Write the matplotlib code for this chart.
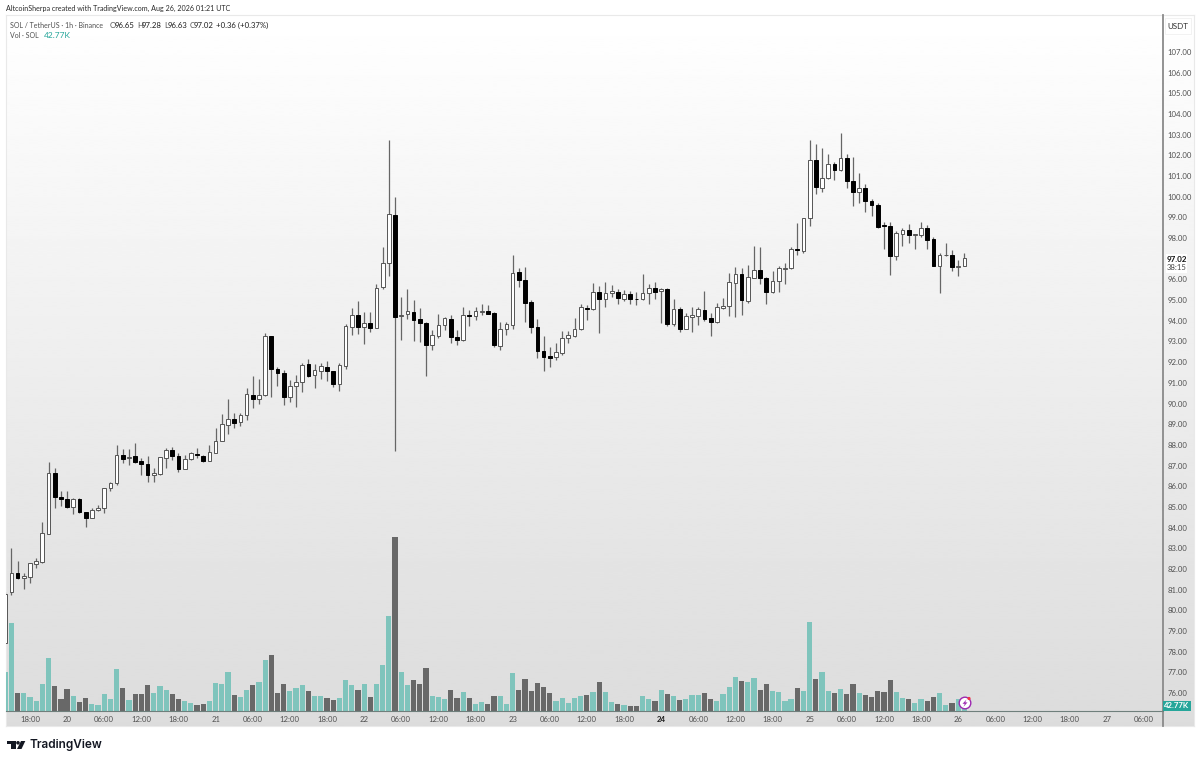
# -*- coding: utf-8 -*-
import numpy as np
import matplotlib
matplotlib.use("Agg")
import matplotlib.pyplot as plt
from matplotlib.patches import Circle, Polygon, Rectangle
from matplotlib.transforms import Affine2D
from matplotlib.ticker import FormatStrFormatter, FixedLocator

plt.rcParams["font.family"] = ["Lato", "DejaVu Sans"]

# --- data, hourly candles, first one is cut by the left edge ---
opens = [78.42,
    80.90, 81.82, 81.55, 81.63, 82.22, 82.35, 83.69, 86.63, 85.50, 85.39,
    84.98, 85.37, 84.77, 84.48, 84.83, 84.93, 85.90, 86.14, 87.51, 87.35,
    87.46, 87.21, 87.06, 86.56, 86.58, 87.37, 87.74, 87.48, 86.85, 87.30,
    87.58, 87.48, 87.24, 87.62, 88.19, 88.98, 89.25, 89.09, 89.45, 90.43,
    90.24, 90.40, 93.27, 91.65, 91.46, 90.30, 90.86, 91.06, 91.90, 91.36,
    91.59, 91.78, 91.57, 90.95, 91.83, 93.72, 94.28, 93.69, 93.88, 93.67,
    95.62, 96.78, 99.13, 94.22, 94.31, 94.44, 94.07, 93.91, 92.85, 93.27,
    93.81, 94.10, 93.23, 93.06, 94.30, 94.25, 94.44, 94.47, 94.39, 92.80,
    93.61, 93.81, 96.35, 95.97, 94.89, 93.69, 92.54, 92.29, 92.23, 92.46,
    93.17, 93.28, 93.62, 94.60, 94.56, 95.38, 95.06, 95.35, 95.41, 95.07,
    95.30, 95.07, 95.04, 95.33, 95.59, 95.43, 95.56, 93.85, 94.59, 93.62,
    94.19, 94.25, 94.54, 94.12, 93.93, 94.64, 94.72, 95.85, 96.28, 94.98,
    96.09, 96.44, 96.07, 95.38, 95.91, 96.52, 96.54, 97.46, 97.39, 98.96,
    101.76, 100.44, 100.89, 101.58, 101.30, 101.89, 100.75, 100.21, 100.41, 99.80,
    99.62, 98.62, 98.59, 97.12, 98.18, 98.38, 98.17, 98.15, 98.47, 97.97,
    96.67, 97.17, 97.18, 96.62, 96.65]
highs = [80.89,
    83.00, 82.38, 81.79, 82.30, 82.51, 84.29, 87.19, 86.87, 85.79, 85.79,
    85.42, 85.42, 84.77, 84.93, 85.09, 85.90, 86.22, 87.99, 87.79, 87.80,
    88.11, 87.35, 87.46, 86.87, 87.43, 87.83, 87.91, 87.62, 87.51, 87.67,
    87.87, 87.51, 87.99, 88.80, 89.49, 90.22, 89.53, 89.53, 90.74, 91.33,
    91.17, 93.40, 93.28, 91.75, 91.62, 91.14, 91.38, 91.94, 92.14, 91.90,
    91.98, 92.06, 91.59, 91.94, 93.83, 94.60, 94.97, 94.41, 94.44, 95.78,
    97.59, 102.74, 99.97, 95.14, 95.52, 95.01, 94.60, 93.96, 93.56, 94.33,
    94.20, 94.28, 93.56, 94.65, 94.52, 94.68, 94.80, 94.77, 94.44, 93.96,
    93.96, 97.18, 96.54, 96.59, 95.01, 94.07, 93.27, 92.75, 92.94, 93.52,
    93.51, 94.12, 94.80, 94.77, 95.81, 95.69, 95.89, 95.73, 95.52, 95.49,
    95.46, 95.38, 96.25, 95.77, 95.88, 95.57, 95.57, 95.04, 94.65, 94.36,
    94.65, 94.65, 95.44, 94.36, 94.88, 95.09, 96.33, 96.62, 96.57, 96.70,
    97.62, 97.59, 96.14, 96.43, 96.65, 96.78, 97.59, 98.72, 98.97, 102.74,
    102.55, 102.34, 102.07, 101.70, 103.07, 102.05, 101.94, 101.13, 100.62, 99.87,
    99.68, 98.80, 98.80, 98.34, 98.47, 98.67, 98.20, 98.80, 98.64, 98.07,
    97.26, 97.75, 97.43, 96.94, 97.28]
lows = [78.42,
    80.74, 81.50, 81.02, 81.30, 82.03, 82.30, 83.68, 84.93, 85.05, 84.93,
    84.66, 84.72, 84.01, 84.45, 84.82, 84.69, 85.79, 86.06, 87.14, 87.03,
    87.14, 86.55, 86.22, 86.19, 86.55, 86.87, 87.27, 86.67, 86.82, 87.27,
    87.35, 87.19, 87.22, 87.60, 88.17, 88.53, 88.80, 88.91, 89.21, 89.80,
    89.98, 90.38, 90.33, 90.86, 89.91, 90.09, 89.82, 90.57, 91.30, 90.77,
    91.17, 91.11, 90.82, 90.61, 91.65, 93.31, 93.36, 92.88, 93.48, 93.65,
    95.52, 96.18, 87.72, 93.07, 94.07, 93.04, 92.99, 91.33, 92.59, 93.15,
    93.56, 92.91, 92.83, 93.04, 93.77, 94.04, 94.28, 94.31, 92.75, 92.59,
    93.31, 93.59, 95.65, 93.96, 93.43, 92.22, 91.59, 91.78, 92.11, 92.35,
    92.91, 93.23, 93.56, 94.04, 94.53, 93.40, 94.69, 95.17, 94.81, 94.97,
    94.81, 94.77, 95.02, 94.80, 95.04, 93.88, 93.75, 93.75, 93.48, 93.59,
    93.48, 93.80, 94.01, 93.27, 93.88, 94.56, 94.23, 94.17, 94.28, 94.85,
    96.06, 95.78, 94.81, 95.33, 95.40, 95.77, 96.49, 97.18, 97.26, 98.59,
    100.13, 100.23, 100.84, 100.81, 101.26, 100.40, 99.55, 99.71, 99.28, 99.07,
    98.51, 97.46, 96.20, 96.94, 97.62, 97.75, 97.46, 98.07, 97.46, 96.65,
    95.33, 97.13, 96.43, 96.19, 96.63]
closes = [80.80,
    81.82, 81.55, 81.66, 82.27, 82.37, 83.73, 86.63, 85.50, 85.37, 85.01,
    85.37, 84.77, 84.48, 84.85, 84.96, 85.90, 86.17, 87.51, 87.33, 87.43,
    87.19, 87.06, 86.56, 86.63, 87.40, 87.75, 87.48, 86.85, 87.30, 87.59,
    87.49, 87.24, 87.67, 88.21, 89.01, 89.25, 89.08, 89.45, 90.46, 90.24,
    90.41, 93.28, 91.69, 91.48, 90.30, 90.86, 91.06, 91.86, 91.33, 91.62,
    91.82, 91.56, 90.95, 91.86, 93.73, 94.28, 93.69, 93.88, 93.67, 95.60,
    96.78, 99.15, 94.20, 94.28, 94.46, 94.06, 93.89, 92.85, 93.31, 93.81,
    94.12, 93.23, 93.06, 94.28, 94.25, 94.46, 94.49, 94.35, 92.83, 93.62,
    93.83, 96.33, 95.99, 94.88, 93.69, 92.54, 92.27, 92.22, 92.48, 93.19,
    93.30, 93.62, 94.65, 94.56, 95.38, 95.06, 95.36, 95.43, 95.09, 95.30,
    95.06, 95.04, 95.36, 95.59, 95.40, 95.52, 93.85, 94.57, 93.61, 94.23,
    94.30, 94.56, 94.11, 93.93, 94.65, 94.72, 95.86, 96.28, 95.01, 96.10,
    96.46, 96.06, 95.38, 95.93, 96.56, 96.56, 97.47, 97.43, 98.97, 101.76,
    100.46, 100.89, 101.60, 101.31, 101.88, 100.75, 100.21, 100.41, 99.78, 99.62,
    98.55, 98.59, 97.14, 98.23, 98.38, 98.17, 98.20, 98.51, 97.91, 96.67,
    97.18, 97.20, 96.59, 96.65, 97.02]
volumes = [140.4,
    313.0, 64.3, 64.3, 51.2, 36.9, 96.4, 188.0, 89.3, 44.0, 78.5,
    54.7, 30.9, 46.4, 26.2, 21.4, 60.7, 42.8, 148.8, 83.3, 40.5,
    61.9, 59.5, 91.6, 65.5, 89.3, 76.2, 59.5, 44.0, 36.9, 29.8,
    22.6, 25.0, 35.7, 100.0, 95.2, 140.4, 57.1, 51.2, 75.0, 91.6,
    104.7, 180.9, 199.9, 65.5, 97.6, 70.2, 82.1, 94.0, 70.2, 52.4,
    52.4, 46.4, 40.5, 46.4, 110.7, 91.6, 73.8, 97.6, 48.8, 95.2,
    164.2, 340.3, 621.0, 139.2, 91.6, 109.5, 95.2, 152.3, 54.7, 48.8,
    41.7, 76.2, 47.6, 66.6, 45.2, 26.2, 33.3, 23.8, 53.6, 52.4,
    26.2, 134.5, 73.8, 114.2, 71.4, 101.2, 86.9, 65.5, 36.9, 45.2,
    28.6, 45.2, 52.4, 55.9, 66.6, 104.7, 66.6, 33.3, 26.2, 21.4,
    19.0, 16.7, 53.6, 42.8, 34.5, 76.2, 60.7, 53.6, 38.1, 41.7,
    58.3, 58.3, 63.1, 42.8, 36.9, 60.7, 85.7, 121.4, 107.1, 104.7,
    117.8, 76.2, 97.6, 72.6, 69.0, 35.7, 44.0, 83.3, 72.6, 317.7,
    115.4, 140.4, 70.2, 63.1, 78.5, 61.9, 97.6, 63.1, 57.1, 51.2,
    71.4, 67.8, 110.7, 67.8, 47.6, 42.8, 29.8, 42.8, 36.9, 48.8,
    64.3, 20.2, 27.4, 42.8, 42.77]

time_labels = ["18:00", "20", "06:00", "12:00", "18:00", "21", "06:00", "12:00",
               "18:00", "22", "06:00", "12:00", "18:00", "23", "06:00", "12:00",
               "18:00", "24", "06:00", "12:00", "18:00", "25", "06:00", "12:00",
               "18:00", "26", "06:00", "12:00", "18:00", "27", "06:00"]
# 97.00 is covered by the last price label on the scale
price_ticks = [p for p in range(76, 108) if p != 97]

GREY_TXT = "#505050"
DARK_TXT = "#1c1c1c"
TEAL = "#7fc4bc"
DARK_VOL = "#686868"
TICK_SIZE = 5.6

W, H = 1200, 763
fig = plt.figure(figsize=(W / 100, H / 100), dpi=100, facecolor="white")
px = Affine2D().scale(1, -1).translate(0, H)  # top-left pixel coords for decorations


def box(x0, y0, x1, y1):
    return [x0 / W, 1 - y1 / H, (x1 - x0) / W, (y1 - y0) / H]


# background gradient over the whole pane, price scale included
bg = fig.add_axes(box(6, 15, 1194, 726), zorder=0)
bg.imshow(np.linspace(255, 220, 256).reshape(-1, 1), cmap="gray", vmin=0, vmax=255,
          aspect="auto", interpolation="bilinear")
bg.set_xticks([])
bg.set_yticks([])
for s in bg.spines.values():
    s.set_color("#e9e9e9")
    s.set_linewidth(0.8)

# --- main axes: candles ---
ax = fig.add_axes(box(6, 15, 1163, 711), zorder=2)
ax.patch.set_alpha(0)
idx = np.arange(len(closes)) - 1
o, h, l, c = map(np.array, (opens, highs, lows, closes))
up = c >= o

ax.vlines(idx, l, h, color="#666666", lw=0.9, zorder=3)
ax.bar(idx, np.maximum(np.abs(c - o), 0.03), bottom=np.minimum(o, c), width=0.6,
       color=np.where(up, "white", "black"), edgecolor=np.where(up, "#555555", "black"),
       linewidth=0.7, zorder=4)

ax.set_xlim(-0.873, 186.1)
ax.set_ylim(75.13, 108.79)

# --- volume, same pane, baseline on the time axis ---
vol = ax.twinx()
vol.set_ylim(0, 2485)
vol.set_zorder(1)
ax.set_zorder(2)
vol.bar(idx, volumes, width=0.84, color=np.where(up, TEAL, DARK_VOL), linewidth=0)
vol.set_yticks([])
for s in vol.spines.values():
    s.set_visible(False)

ax.xaxis.set_major_locator(FixedLocator(np.arange(len(time_labels)) * 6 + 3))
ax.set_xticklabels(time_labels, fontsize=TICK_SIZE, color=GREY_TXT)
ax.tick_params(axis="x", length=0, pad=3.5)
for lab, txt in zip(ax.get_xticklabels(), time_labels):
    if txt == "24":
        lab.set_color(DARK_TXT)
        lab.set_fontweight("bold")

# twinx flips the ticks to the left, so set this after it
ax.yaxis.tick_right()
ax.yaxis.set_major_locator(FixedLocator(price_ticks))
ax.yaxis.set_major_formatter(FormatStrFormatter("%.2f"))
ax.tick_params(axis="y", length=0, pad=3, labelsize=TICK_SIZE, labelcolor=GREY_TXT)

for s in ("top", "left"):
    ax.spines[s].set_visible(False)
ax.spines["right"].set_color("#8a8a8a")
ax.spines["right"].set_linewidth(1.3)
ax.spines["bottom"].set_color("#6f7f7c")
ax.spines["bottom"].set_linewidth(0.8)

# separator continues down through the time scale
fig.add_artist(plt.Line2D([1163, 1163], [711, 726], transform=px, color="#8a8a8a", lw=1.3))


def put(x, y, s, color=GREY_TXT, size=5.05, weight="normal", ha="left", **kw):
    return fig.text(x, y, s, transform=px, color=color, fontsize=size, fontweight=weight,
                    ha=ha, va="center", **kw)


# --- header and legend ---
put(6, 8.5, "AltcoinSherpa created with TradingView.com, Aug 26, 2026 01:21 UTC",
    color="#2a2a2a", size=5.15)
put(10.5, 25, "SOL / TetherUS · 1h · Binance")
for x, s, col in [(110, "O", GREY_TXT), (115, "96.65", DARK_TXT), (137, "H", GREY_TXT),
                  (141.5, "97.28", DARK_TXT), (164, "L", GREY_TXT), (168, "96.63", DARK_TXT),
                  (190, "C", GREY_TXT), (194, "97.02", DARK_TXT),
                  (216, "+0.36 (+0.37%)", DARK_TXT)]:
    put(x, 25, s, color=col, size=5.6)
put(10.5, 35, "Vol · SOL")
put(43.5, 35, "42.77K", color="#26a69a", size=6.0)

# --- price scale extras ---
fig.add_artist(Rectangle((1165, 18), 26, 16, transform=px, facecolor="white",
                         edgecolor="#f0f0f0", linewidth=0.6, zorder=5))
put(1178, 26.5, "USDT", color="#333333", size=5.8, ha="center", zorder=6)
fig.add_artist(Rectangle((1166, 254), 21, 18.5, transform=px, facecolor="white",
                         edgecolor="none", zorder=5))
put(1176.5, 259, "97.02", color="#111111", size=5.8, weight="bold", ha="center", zorder=6)
put(1176.5, 267.5, "38:15", color="#444444", size=5.6, ha="center", zorder=6)
fig.add_artist(Rectangle((1163, 701), 28, 9.5, transform=px, facecolor="#26a69a",
                         edgecolor="none", zorder=5))
put(1177, 706, "42.77K", color="white", size=5.6, weight="bold", ha="center", zorder=6)

# --- lightning badge on the last bar ---
fig.add_artist(Circle((965, 703), 5.8, transform=px, facecolor="white", edgecolor="#9c27b0",
                      linewidth=1.0, zorder=5))
fig.add_artist(Polygon([(966.5, 699.5), (962.5, 703.8), (964.8, 703.8), (963.5, 706.8),
                        (967.5, 702.4), (965.2, 702.4)], transform=px, facecolor="#9c27b0",
                       edgecolor="none", zorder=6))
fig.add_artist(Circle((969, 698.5), 1.6, transform=px, facecolor="#f23645", edgecolor="none", zorder=6))

# --- TradingView logo ---
fig.add_artist(Polygon([(7, 741), (15.5, 741), (15.5, 749), (11, 749), (11, 744.4), (7, 744.4)],
                       transform=px, facecolor="#131722", edgecolor="none"))
fig.add_artist(Circle((18, 742.8), 1.8, transform=px, facecolor="#131722", edgecolor="none"))
fig.add_artist(Polygon([(21, 741), (25.3, 741), (21.5, 749), (17, 749)],
                       transform=px, facecolor="#131722", edgecolor="none"))
put(29, 745, "TradingView", color="#131722", size=8.5, weight="semibold", family=["Inter", "DejaVu Sans"])

fig.savefig("out.png", dpi=100)
